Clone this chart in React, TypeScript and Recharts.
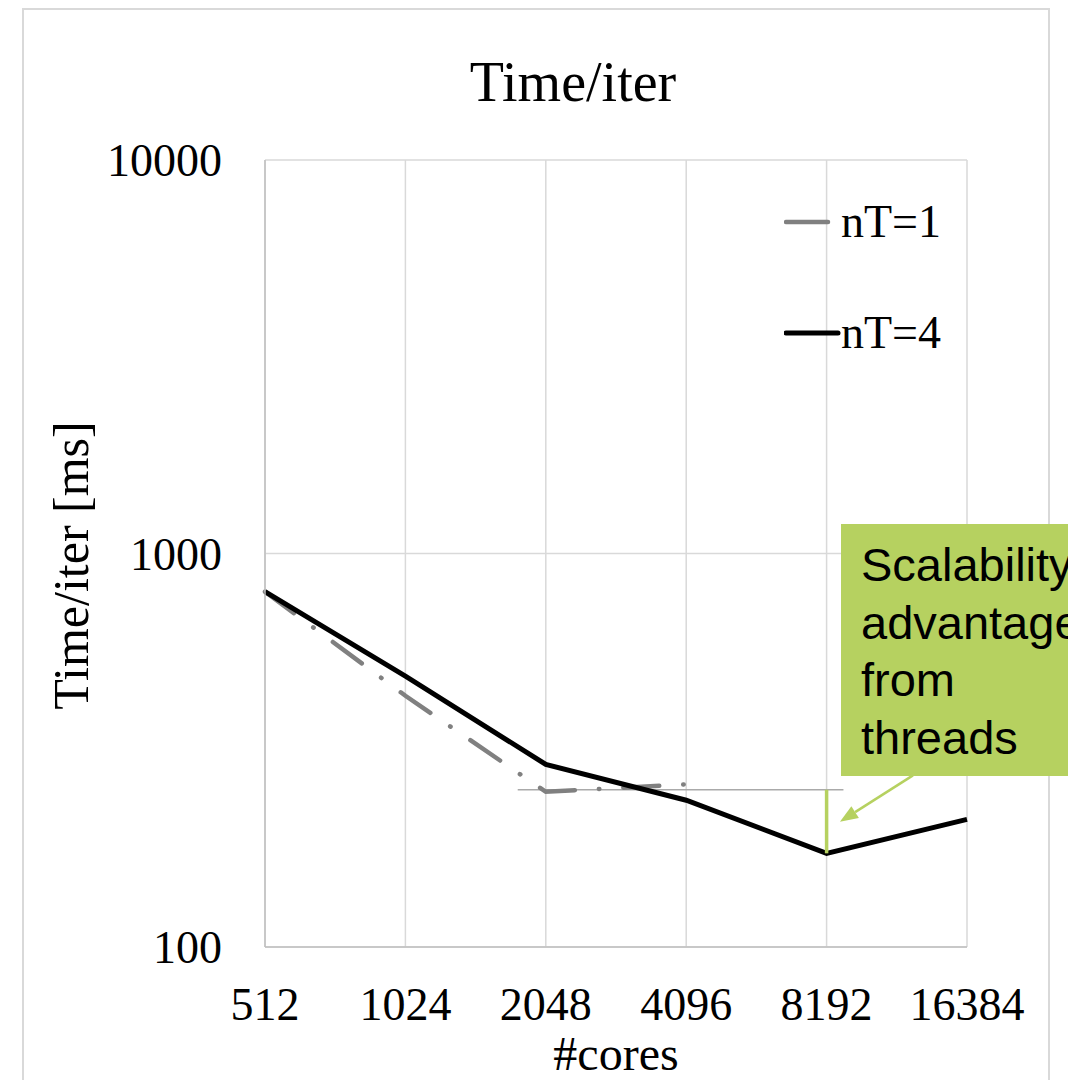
import React from 'react';
import { LineChart, Line, XAxis, YAxis, CartesianGrid, Legend, ReferenceLine } from 'recharts';

const SERIF = '"Liberation Serif", "Times New Roman", serif';
const SANS = '"Liberation Sans", Arial, sans-serif';

// #cores on the x axis (evenly spaced categories)
const cores = [512, 1024, 2048, 4096, 8192, 16384];
// time per iteration [ms]
const timeNT1 = [800, 435, 248, 259, null, null];
const timeNT4 = [800, 488, 291, 236, 173, 211];
const yTicks = [100, 1000, 10000];

// annotation: thin guide at the nT=1 best value, green gap at 8192, arrow from the callout
const guideY = 251;
const guideFrom = 1.8;
const guideTo = 4.12;
const arrowStart = { x: 4.615, y: 273 };
const arrowTip = { x: 4.095, y: 208 };

const GREEN = '#b6d160';

const data = cores.map((c, i) => ({ idx: i, cores: c, nT1: timeNT1[i], nT4: timeNT4[i] }));

const YTitle = (props: any) => {
  const vb = props.viewBox || { y: 160, height: 787 };
  const bx = 88;
  const cy = vb.y + vb.height / 2 + 12;
  return (
    <text x={bx} y={cy} transform={`rotate(-90 ${bx} ${cy})`} textAnchor="middle"
      fontFamily={SERIF} fontSize={50} fill="#000">
      Time/iter [ms]
    </text>
  );
};

const XTitle = (props: any) => {
  const vb = props.viewBox || { x: 265, width: 702 };
  return (
    <text x={vb.x + vb.width / 2} y={1070} textAnchor="middle" fontFamily={SERIF} fontSize={48} fill="#000">
      #cores
    </text>
  );
};

const renderLegend = (props: any) => {
  const items = props.payload || [];
  return (
    <div>
      {items.map((it: any) => (
        <div key={it.value} style={{ display: 'flex', alignItems: 'center', height: 111 }}>
          <svg width={57} height={10} style={{ display: 'block' }}>
            <line x1={2} y1={5} x2={it.color === '#000000' ? 54 : 44} y2={5} stroke={it.color}
              strokeWidth={it.color === '#000000' ? 5 : 4.5} strokeLinecap="round" />
          </svg>
          <span style={{ fontFamily: SERIF, fontSize: 46, lineHeight: 1, color: '#000' }}>{it.value}</span>
        </div>
      ))}
    </div>
  );
};

const ArrowShape = (props: any) => {
  const { x1, y1, x2, y2 } = props;
  if ([x1, y1, x2, y2].some((v) => typeof v !== 'number')) return null;
  const ang = Math.atan2(y2 - y1, x2 - x1);
  const len = 18;
  const half = 7;
  const bx = x2 - len * Math.cos(ang);
  const by = y2 - len * Math.sin(ang);
  const px = -Math.sin(ang) * half;
  const py = Math.cos(ang) * half;
  return (
    <g>
      <line x1={x1} y1={y1} x2={bx} y2={by} stroke={GREEN} strokeWidth={2.5} />
      <polygon points={`${x2},${y2} ${bx + px},${by + py} ${bx - px},${by - py}`} fill={GREEN} />
    </g>
  );
};

export default function App() {
  return (
    <div style={{ position: 'absolute', left: 0, top: 0, width: 1068, height: 1080, overflow: 'hidden', background: '#fff' }}>
      <div style={{ position: 'absolute', left: 22, top: 8, width: 1024, height: 1200, border: '2px solid #d9d9d9' }} />
      <LineChart width={1068} height={1080} data={data} margin={{ top: 160, right: 101, bottom: 0, left: 0 }}>
        <CartesianGrid stroke="#d9d9d9" strokeWidth={1.5} />
        <XAxis
          dataKey="idx"
          type="number"
          domain={[0, 5]}
          ticks={[0, 1, 2, 3, 4, 5]}
          interval={0}
          tickFormatter={(i: number) => String(cores[i])}
          height={133}
          tickLine={false}
          tickMargin={34}
          axisLine={{ stroke: '#bfbfbf', strokeWidth: 1.5 }}
          tick={{ fill: '#000', fontSize: 46, fontFamily: SERIF }}
          label={<XTitle />}
        />
        <YAxis
          type="number"
          scale="log"
          domain={[100, 10000]}
          ticks={yTicks}
          allowDataOverflow
          width={265}
          tickLine={false}
          tickMargin={37}
          axisLine={{ stroke: '#bfbfbf', strokeWidth: 1.5 }}
          tick={{ fill: '#000', fontSize: 46, fontFamily: SERIF }}
          label={<YTitle />}
        />
        <Legend
          layout="vertical"
          verticalAlign="middle"
          align="center"
          wrapperStyle={{ left: 784, top: 166, width: 220 }}
          content={renderLegend}
        />
        <ReferenceLine
          segment={[{ x: guideFrom, y: guideY }, { x: guideTo, y: guideY }]}
          stroke="#aaaaaa"
          strokeWidth={1.5}
        />
        <Line
          name="nT=1"
          dataKey="nT1"
          stroke="#808080"
          strokeWidth={4.5}
          strokeDasharray="36 24 0.5 24"
          strokeLinecap="round"
          dot={false}
          isAnimationActive={false}
        />
        <Line
          name="nT=4"
          dataKey="nT4"
          stroke="#000000"
          strokeWidth={5}
          dot={false}
          isAnimationActive={false}
        />
        <ReferenceLine
          segment={[{ x: 4, y: guideY }, { x: 4, y: timeNT4[4] as number }]}
          stroke={GREEN}
          strokeWidth={3.5}
        />
        <ReferenceLine
          segment={[arrowStart, arrowTip]}
          shape={<ArrowShape />}
        />
      </LineChart>
      <div style={{ position: 'absolute', left: 0, top: 54, width: 1146, textAlign: 'center', fontFamily: SERIF, fontSize: 56, lineHeight: 1, color: '#000' }}>
        Time/iter
      </div>
      <div style={{
        position: 'absolute', left: 841, top: 524, width: 260, height: 252, background: GREEN,
        boxSizing: 'border-box', paddingLeft: 20, paddingTop: 12,
        fontFamily: SANS, fontSize: 47, lineHeight: '57.5px', color: '#000', whiteSpace: 'nowrap',
      }}>
        Scalability<br />advantage<br />from<br />threads
      </div>
    </div>
  );
}
